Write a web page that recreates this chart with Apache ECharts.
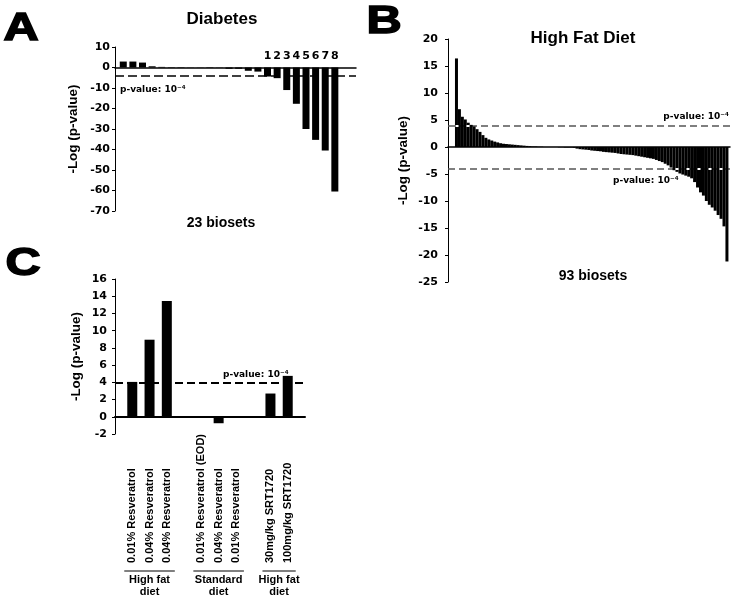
<!DOCTYPE html>
<html><head><meta charset="utf-8">
<script src="https://cdn.jsdelivr.net/npm/echarts@6/dist/echarts.min.js"></script>
<style>html,body{margin:0;padding:0;background:#fff}#c{width:733px;height:598px}</style>
</head><body><div id="c"></div>
<script>
// ---------- Panel A: Diabetes (23 biosets) ----------
const aValues = [2.9, 2.9, 2.4, 0.6, 0.3, 0.2, 0.2, 0.1, 0.1, 0.2, -0.1, -0.6, -0.6, -1.6, -2.0, -4.4, -5.2, -11, -17.7, -30, -35.3, -40.5, -60.5];
const aLabels = ['', '', '', '', '', '', '', '', '', '', '', '', '', '', '', '1', '2', '3', '4', '5', '6', '7', '8'];
const aTicks = [-70, -60, -50, -40, -30, -20, -10, 0, 10];

// ---------- Panel B: High Fat Diet (93 biosets) ----------
const bValues = [
  16.4, 7.0, 5.6, 5.1, 4.5, 4.1, 3.8, 3.3, 2.8, 2.2,
  1.7, 1.4, 1.2, 1.0, 0.85, 0.7, 0.6, 0.55, 0.5, 0.45,
  0.4, 0.35, 0.3, 0.25, 0.2, 0.15, 0.1, 0.1, 0.05, 0.05,
  0, 0, 0, 0, 0, -0.05, -0.05, -0.1, -0.1, -0.1,
  -0.15, -0.3, -0.4, -0.45, -0.5, -0.55, -0.65, -0.7, -0.75, -0.8,
  -0.9, -0.95, -1.0, -1.05, -1.1, -1.2, -1.3, -1.35, -1.4, -1.45,
  -1.5, -1.6, -1.7, -1.8, -1.9, -2.0, -2.1, -2.2, -2.4, -2.6,
  -2.8, -3.1, -3.4, -3.8, -4.3, -4.6, -4.9, -5.1, -5.3, -5.5,
  -5.8, -6.5, -7.5, -8.4, -9.0, -10.0, -10.7, -11.2, -11.8, -12.6,
  -13.3, -14.7, -21.2
];
const bTicks = [-25, -20, -15, -10, -5, 0, 5, 10, 15, 20];

// ---------- Panel C ----------
const cCategories = ['', '0.01% Resveratrol', '0.04% Resveratrol', '0.04% Resveratrol', '',
  '0.01% Resveratrol (EOD)', '0.04% Resveratrol', '0.01% Resveratrol', '',
  '30mg/kg SRT1720', '100mg/kg SRT1720', ''];
const cValues = [null, 4.05, 8.95, 13.45, null, 0, -0.75, 0, null, 2.7, 4.75, null];
const cTicks = [-2, 0, 2, 4, 6, 8, 10, 12, 14, 16];
const cGroups = [
  { name: 'High fat\ndiet', from: 1, to: 3 },
  { name: 'Standard\ndiet', from: 5, to: 7 },
  { name: 'High fat\ndiet', from: 9, to: 10 }
];

const threshold = 4; // -log10(1e-4)
const pLabel = 'p-value: 10\u207B\u2074';
const yName = '-Log (p-value)';

const BLACK = '#000';
const tickFont = { color: BLACK, fontFamily: 'DejaVu Sans', fontWeight: 'bold', fontSize: 11 };

function yAx(gi, ticks, margin, nameGap) {
  return {
    type: 'value', gridIndex: gi,
    min: ticks[0], max: ticks[ticks.length - 1], interval: ticks[1] - ticks[0],
    axisLine: { show: true, onZero: false, lineStyle: { color: BLACK, width: 1 } },
    axisTick: { show: true, length: 3, lineStyle: { color: BLACK } },
    axisLabel: Object.assign({ margin: margin }, tickFont),
    splitLine: { show: false },
    name: yName, nameLocation: 'middle', nameGap: nameGap,
    nameTextStyle: { color: BLACK, fontFamily: 'Liberation Sans', fontWeight: 'bold', fontSize: 13.5 }
  };
}
function xValAx(gi, min, max, w) {
  return {
    type: 'value', gridIndex: gi, min: min, max: max,
    axisLine: { show: true, onZero: true, lineStyle: { color: BLACK, width: w } },
    axisTick: { show: false }, axisLabel: { show: false }, splitLine: { show: false }
  };
}

const chart = echarts.init(document.getElementById('c'), null, { renderer: 'canvas' });
chart.setOption({
  animation: false,
  backgroundColor: '#fff',
  grid: [
    { left: 115, top: 47, width: 241, height: 164 },
    { left: 448, top: 39, width: 282, height: 243 },
    { left: 115, top: 279, width: 190, height: 155 }
  ],
  xAxis: [
    xValAx(0, -0.86, 24.2, 1.5),
    xValAx(1, -2.88, 93.04, 1.5),
    {
      type: 'category', gridIndex: 2, data: cCategories, boundaryGap: false,
      axisLine: { show: true, onZero: true, lineStyle: { color: BLACK, width: 2 } },
      axisTick: { show: false },
      axisLabel: { interval: 0, rotate: 90, align: 'left', verticalAlign: 'middle', margin: 129,
        color: BLACK, fontFamily: 'Liberation Sans', fontWeight: 'bold', fontSize: 11 },
      splitLine: { show: false }
    }
  ],
  yAxis: [
    yAx(0, aTicks, 5, 35),
    yAx(1, bTicks, 10, 38),
    yAx(2, cTicks, 8, 32)
  ],
  series: [
    {
      type: 'bar', xAxisIndex: 0, yAxisIndex: 0, barWidth: 7,
      data: aValues.map((v, i) => [i, v]),
      itemStyle: { color: BLACK },
      label: { show: true, position: 'top', distance: 6, formatter: p => aLabels[p.dataIndex],
        color: BLACK, fontFamily: 'DejaVu Sans', fontWeight: 'bold', fontSize: 11 },
      markLine: { symbol: 'none', silent: true, label: { show: false }, z: 5,
        lineStyle: { color: BLACK, type: [9, 4], width: 1.5 },
        data: [{ yAxis: -threshold }] }
    },
    {
      type: 'bar', xAxisIndex: 1, yAxisIndex: 1, barWidth: 3,
      data: bValues.map((v, i) => [i, v]),
      itemStyle: { color: BLACK },
      markLine: { symbol: 'none', silent: true, label: { show: false }, z: 1,
        lineStyle: { color: '#555', type: [7, 4], width: 1.5 },
        data: [{ yAxis: threshold }, { yAxis: -threshold }] }
    },
    {
      type: 'line', xAxisIndex: 1, yAxisIndex: 1, data: [],
      markLine: { symbol: 'none', silent: true, label: { show: false }, z: 10,
        lineStyle: { color: '#fff', type: [3, 8], dashOffset: 3.5, width: 2 },
        data: [{ yAxis: threshold }, { yAxis: -threshold }] }
    },
    {
      type: 'bar', xAxisIndex: 2, yAxisIndex: 2, barWidth: 10,
      data: cValues,
      itemStyle: { color: BLACK },
      markLine: { symbol: 'none', silent: true, label: { show: false }, z: 5,
        lineStyle: { color: BLACK, type: [8, 4], width: 2 },
        data: [{ yAxis: threshold }] }
    }
  ]
});

function txt(text, x, y, font, align, valign, extra) {
  return Object.assign({
    type: 'text', x: x, y: y, z: 100,
    style: { text: text, font: font, fill: BLACK, textAlign: align, textVerticalAlign: valign,
      align: align, verticalAlign: valign }
  }, extra || {});
}
function bigLetter(ch, x, y) {
  const t = txt(ch, x, y, 'bold 39px "Liberation Sans"', 'center', 'middle', { scaleX: 1.25 });
  t.style.stroke = BLACK;
  t.style.lineWidth = 1.5;
  return t;
}

const graphics = [
  bigLetter('A', 21, 29),
  bigLetter('B', 384, 22),
  bigLetter('C', 23, 264),
  txt('Diabetes', 222, 19, 'bold 17px "Liberation Sans"', 'center', 'middle'),
  txt('High Fat Diet', 583, 38.5, 'bold 17px "Liberation Sans"', 'center', 'middle'),
  txt('23 biosets', 221, 223, 'bold 14px "Liberation Sans"', 'center', 'middle'),
  txt('93 biosets', 593, 276, 'bold 14px "Liberation Sans"', 'center', 'middle'),
  txt(pLabel, 120, 89.5, 'bold 9px "DejaVu Sans"', 'left', 'middle'),
  txt(pLabel, 729, 116.5, 'bold 9px "DejaVu Sans"', 'right', 'middle'),
  txt(pLabel, 613, 181, 'bold 9px "DejaVu Sans"', 'left', 'middle'),
  txt(pLabel, 223, 375, 'bold 9px "DejaVu Sans"', 'left', 'middle')
];
cGroups.forEach(g => {
  const x0 = chart.convertToPixel({ xAxisIndex: 2 }, g.from) - 8;
  const x1 = chart.convertToPixel({ xAxisIndex: 2 }, g.to) + 8;
  graphics.push({ type: 'line', z: 100, shape: { x1: x0, y1: 571, x2: x1, y2: 571 },
    style: { stroke: BLACK, lineWidth: 1 } });
  const t = txt(g.name, (x0 + x1) / 2, 574, 'bold 11px "Liberation Sans"', 'center', 'top');
  t.style.lineHeight = 12;
  graphics.push(t);
});
chart.setOption({ graphic: graphics });
</script>
</body></html>
